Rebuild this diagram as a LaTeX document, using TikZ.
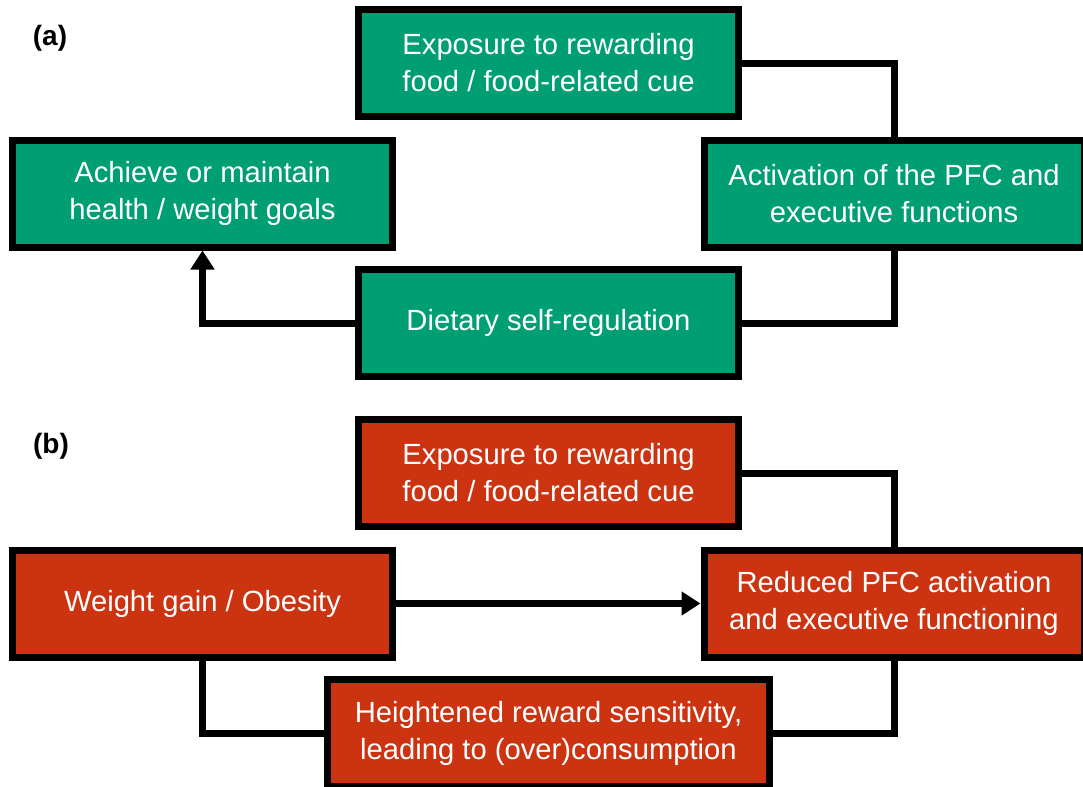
\documentclass[tikz,border=0pt]{standalone}
\usepackage{fontspec}
\setmainfont{Liberation Sans}
\usetikzlibrary{arrows.meta}

\definecolor{goodgreen}{RGB}{0,158,115}
\definecolor{badred}{RGB}{204,51,17}

\begin{document}
\begin{tikzpicture}[
  x=0.5pt, y=-0.5pt,
  font=\fontsize{14.6pt}{18.5pt}\selectfont,
  box/.style={draw=black, line width=3.5pt, text=white, align=center,
              minimum width=190pt, minimum height=53.5pt, inner sep=2pt},
  gbox/.style={box, fill=goodgreen},
  rbox/.style={box, fill=badred},
  tag/.style={font=\fontsize{14pt}{16pt}\selectfont\bfseries},
  e/.style={draw=black, line width=3.5pt},
  arr/.style={e, -{Triangle[length=9.5pt,width=11.5pt]}}
]
\useasboundingbox (0,0) rectangle (1083,787);

% panel (a)
\node[tag] (tagA) at (50,38) {(a)};
\node[gbox] (expA)  at (548.5,63)  {Exposure to rewarding\\food / food-related cue};
\node[gbox] (goalA) at (202.5,193.5) {Achieve or maintain\\health / weight goals};
\node[gbox] (pfcA)  at (894,193.5) {Activation of the PFC and\\executive functions};
\node[gbox] (dietA) at (548.5,323) {Dietary self-regulation};

\draw[e] (expA.east) -| (pfcA.north);
\draw[e] (pfcA.south) |- (dietA.east);
\draw[arr] (dietA.west) -| (goalA.south);

% panel (b)
\node[tag] (tagB) at (51,446) {(b)};
\node[rbox] (expB) at (548.5,473) {Exposure to rewarding\\food / food-related cue};
\node[rbox] (wgtB) at (202.5,603.5) {Weight gain / Obesity};
\node[rbox] (redB) at (894,603.5) {Reduced PFC activation\\and executive functioning};
\node[rbox, minimum width=221pt] (hgtB) at (548.5,733)
  {Heightened reward sensitivity,\\leading to (over)consumption};

\draw[e] (expB.east) -| (redB.north);
\draw[arr] (wgtB.east) -- (redB.west);
\draw[e] (wgtB.south) |- (hgtB.west);
\draw[e] (redB.south) |- (hgtB.east);
\end{tikzpicture}
\end{document}
